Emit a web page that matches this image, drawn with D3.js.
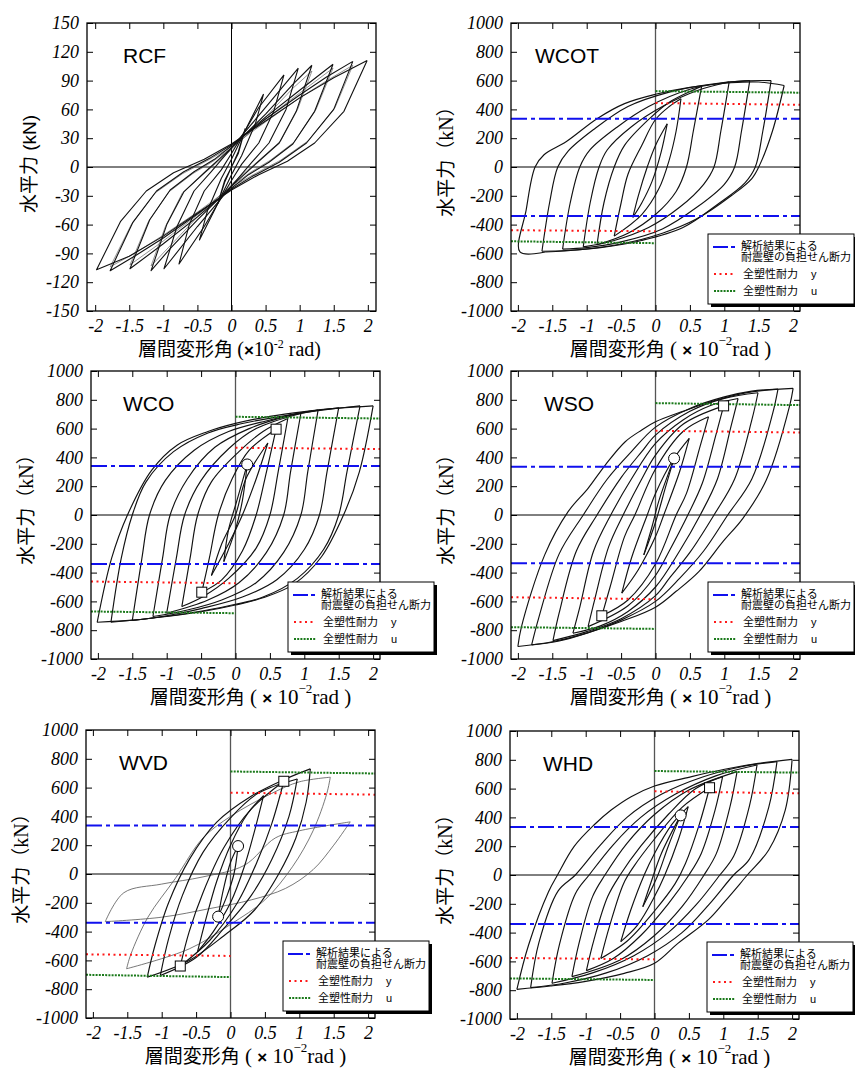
<!DOCTYPE html>
<html>
<head>
<meta charset="utf-8">
<title>Hysteresis loops</title>
<style>
  body { margin: 0; background: #fff; }
  svg { display: block; }
</style>
<script src="https://d3js.org/d3.v7.min.js"></script>
</head>
<body>
<svg width="855" height="1068"></svg>
<script>
var svg = d3.select('svg');

var serifF = '"Liberation Serif", "Times New Roman", serif';
var sansF = '"Liberation Sans", Arial, sans-serif';
var cjkF = '"Noto Sans CJK JP", sans-serif';

// tick values
var xTicks = [-2, -1.5, -1, -0.5, 0, 0.5, 1, 1.5, 2];
var rcfYTicks = [-150, -120, -90, -60, -30, 0, 30, 60, 90, 120, 150];
var wallYTicks = [-1000, -800, -600, -400, -200, 0, 200, 400, 600, 800, 1000];
var legendLines = ['解析結果による', '耐震壁の負担せん断力', '全塑性耐力', '全塑性耐力'];
var legendSubs = ['y', 'u'];

// RCF loops [drift, force]
var rcfLoops = [
  [[0.2,40],[0.1,14],[0,0],[-0.1,-16],[-0.2,-38],[-0.1,-14],[0,0],[0.1,16],[0.2,40]],
  [[0.47,76],[0.35,45],[0.15,12],[0,-8],[-0.25,-45],[-0.47,-76],[-0.35,-45],[-0.15,-12],[0,8],[0.25,45],[0.47,76]],
  [[0.77,96],[0.62,58],[0.4,25],[0.15,3],[0,-14],[-0.4,-62],[-0.77,-101],[-0.62,-60],[-0.4,-25],[-0.15,-3],[0,14],[0.4,62],[0.77,96]],
  [[0.98,103],[0.8,60],[0.55,25],[0.3,5],[0,-20],[-0.5,-62],[-0.99,-106],[-0.8,-62],[-0.55,-25],[-0.3,-5],[0,20],[0.5,62],[0.98,103]],
  [[1.18,106],[0.95,58],[0.7,25],[0.4,6],[0,-20],[-0.5,-55],[-0.9,-85],[-1.18,-108],[-0.95,-60],[-0.7,-26],[-0.4,-6],[0,20],[0.5,55],[0.9,86],[1.18,106]],
  [[1.49,107],[1.22,58],[0.9,24],[0.55,5],[0.25,-8],[0,-22],[-0.5,-52],[-1.0,-80],[-1.49,-106],[-1.2,-55],[-0.9,-24],[-0.55,-5],[-0.25,8],[0,22],[0.5,52],[1.0,80],[1.49,107]],
  [[1.78,110],[1.5,60],[1.1,25],[0.7,5],[0.3,-10],[0,-23],[-0.5,-49],[-1.0,-74],[-1.4,-92],[-1.78,-108],[-1.45,-58],[-1.1,-25],[-0.7,-5],[-0.3,10],[0,23],[0.5,50],[1.0,75],[1.4,94],[1.78,110]],
  [[1.99,111],[1.65,58],[1.22,25],[0.82,6],[0.4,-8],[0,-24],[-0.5,-48],[-1.0,-72],[-1.5,-93],[-1.98,-107],[-1.63,-57],[-1.25,-25],[-0.85,-6],[-0.4,8],[0,24],[0.5,48],[1.0,72],[1.5,93],[1.99,111]]
];
// repeated cycles (thin grey)
var rcfRepeat = [
  [[1.18,100],[0.97,60],[0.72,27],[0.42,8],[0,-18],[-0.5,-52],[-0.9,-82],[-1.18,-103],[-0.97,-62],[-0.72,-27],[-0.42,-8],[0,18],[0.5,52],[0.9,82],[1.18,100]],
  [[1.49,103],[1.24,60],[0.92,26],[0.57,7],[0.27,-6],[0,-20],[-0.5,-50],[-1.0,-77],[-1.49,-102],[-1.22,-57],[-0.92,-26],[-0.57,-7],[-0.27,6],[0,20],[0.5,50],[1.0,77],[1.49,103]],
  [[1.78,106],[1.52,62],[1.12,27],[0.72,7],[0.32,-8],[0,-21],[-0.5,-47],[-1.0,-71],[-1.4,-89],[-1.78,-104],[-1.47,-60],[-1.12,-27],[-0.72,-7],[-0.32,8],[0,21],[0.5,47],[1.0,72],[1.4,90],[1.78,106]]
];

// WCOT
var wcotLoops = [
  [[0.17,300],[0.08,100],[-0.05,-100],[-0.2,-250],[-0.33,-350],[-0.25,-200],[-0.12,0],[0,150],[0.17,300]],
  [[0.37,474],[0.3,250],[0.2,50],[0.05,-150],[-0.2,-330],[-0.6,-480],[-0.5,-250],[-0.4,-50],[-0.2,150],[0,330],[0.2,420],[0.37,474]],
  [[0.67,560],[0.55,250],[0.45,0],[0.3,-170],[0,-330],[-0.4,-460],[-0.85,-540],[-0.75,-250],[-0.6,0],[-0.45,150],[-0.1,330],[0.2,450],[0.67,560]],
  [[1.07,590],[0.95,250],[0.85,0],[0.7,-120],[0.35,-280],[-0.1,-420],[-0.6,-510],[-1.05,-555],[-0.95,-250],[-0.82,0],[-0.7,120],[-0.35,280],[0.1,420],[0.6,530],[1.07,590]],
  [[1.37,600],[1.25,250],[1.15,0],[1.0,-120],[0.6,-280],[0.1,-430],[-0.5,-520],[-1.0,-560],[-1.35,-570],[-1.24,-250],[-1.1,0],[-0.95,120],[-0.55,280],[-0.1,420],[0.5,540],[1.0,585],[1.37,600]],
  [[1.68,600],[1.56,250],[1.45,0],[1.3,-110],[0.9,-260],[0.4,-420],[-0.2,-510],[-0.8,-560],[-1.3,-580],[-1.65,-585],[-1.54,-250],[-1.42,0],[-1.27,110],[-0.9,260],[-0.4,420],[0.2,520],[0.8,575],[1.3,598],[1.68,600]],
  [[1.87,566],[1.7,250],[1.52,20],[1.4,-80],[1.1,-200],[0.6,-360],[0.1,-460],[-0.5,-535],[-1.1,-575],[-1.6,-590],[-1.97,-590],[-1.88,-300],[-1.75,0],[-1.62,85],[-1.3,175],[-0.85,335],[-0.45,440],[0,505],[0.5,553],[1.1,585],[1.5,590],[1.87,566]]
];
var wcotBlue = [335, -340];
var wcotRed = [[0, 444, 2.1, 432], [-2.1, -439, 0, -446]];
var wcotGreen = [[0, 527, 2.1, 516], [-2.1, -516, 0, -529]];

// WCO
var wcoLoops = [
  [[0.17,351],[0.1,100],[0,-100],[-0.17,-324],[-0.1,-100],[0.02,100],[0.17,351]],
  [[0.47,500],[0.3,250],[0.1,0],[-0.1,-200],[-0.35,-420],[-0.2,-200],[0,0],[0.15,250],[0.47,500]],
  [[0.59,596],[0.45,300],[0.3,0],[0.1,-250],[-0.2,-450],[-0.49,-536],[-0.38,-300],[-0.25,0],[-0.05,250],[0.2,450],[0.59,596]],
  [[0.76,670],[0.62,300],[0.5,0],[0.3,-230],[-0.1,-440],[-0.45,-560],[-0.78,-636],[-0.66,-300],[-0.55,0],[-0.35,230],[0.05,440],[0.4,580],[0.76,670]],
  [[0.95,705],[0.8,300],[0.7,0],[0.45,-260],[0.05,-470],[-0.4,-590],[-1.0,-682],[-0.86,-300],[-0.74,0],[-0.5,240],[-0.1,460],[0.3,600],[0.95,705]],
  [[1.2,728],[1.05,300],[0.95,0],[0.7,-260],[0.3,-470],[-0.2,-590],[-0.7,-660],[-1.2,-705],[-1.06,-300],[-0.95,0],[-0.7,250],[-0.3,470],[0.2,600],[0.7,680],[1.2,728]],
  [[1.5,745],[1.33,300],[1.22,0],[1.0,-240],[0.6,-450],[0.1,-570],[-0.5,-650],[-1.0,-700],[-1.5,-733],[-1.36,-300],[-1.25,0],[-1.02,240],[-0.6,450],[-0.1,580],[0.5,660],[1.0,715],[1.5,745]],
  [[1.81,758],[1.62,300],[1.5,0],[1.28,-240],[0.9,-440],[0.4,-570],[-0.1,-630],[-0.6,-675],[-1.2,-715],[-1.81,-745],[-1.66,-300],[-1.5,0],[-1.3,230],[-0.9,440],[-0.4,570],[0.1,635],[0.6,680],[1.2,725],[1.81,758]],
  [[2.0,758],[1.8,300],[1.57,0],[1.25,-290],[0.85,-480],[0.4,-575],[0,-625],[-0.5,-672],[-1.0,-705],[-1.5,-730],[-2.01,-745],[-1.8,-300],[-1.57,0],[-1.22,310],[-0.85,485],[-0.4,580],[0,636],[0.5,685],[1.0,718],[1.5,742],[2.0,758]]
];
var wcoBlue = [340, -340];
var wcoRed = [[0, 467, 2.1, 458], [-2.1, -462, 0, -474]];
var wcoGreen = [[0, 682, 2.1, 670], [-2.1, -670, 0, -682]];
var wcoSquares = [[0.59, 596], [-0.49, -536]];
var wcoCircles = [[0.17, 351]];

// WSO
var wsoLoops = [
  [[0.27,393],[0.15,200],[0,-50],[-0.17,-277],[-0.05,-80],[0.05,100],[0.27,393]],
  [[0.49,532],[0.35,300],[0.12,0],[0,-150],[-0.25,-380],[-0.49,-543],[-0.35,-300],[-0.12,0],[0,150],[0.25,380],[0.49,532]],
  [[0.77,682],[0.65,480],[0.45,150],[0.3,0],[0,-340],[-0.4,-590],[-0.78,-700],[-0.66,-500],[-0.45,-150],[-0.3,0],[0,320],[0.4,580],[0.77,682]],
  [[0.99,758],[0.88,560],[0.68,220],[0.47,0],[0.2,-250],[0,-420],[-0.4,-630],[-0.98,-775],[-0.88,-580],[-0.68,-220],[-0.47,0],[-0.2,250],[0,416],[0.4,630],[0.99,758]],
  [[1.2,809],[1.1,620],[0.9,250],[0.65,0],[0.35,-250],[0,-500],[-0.4,-670],[-0.8,-770],[-1.2,-821],[-1.1,-640],[-0.9,-250],[-0.65,0],[-0.35,250],[0,497],[0.4,660],[0.8,760],[1.2,809]],
  [[1.49,849],[1.4,660],[1.15,250],[0.85,0],[0.5,-260],[0.2,-440],[0,-560],[-0.5,-720],[-1.0,-810],[-1.49,-872],[-1.4,-680],[-1.15,-250],[-0.85,0],[-0.5,260],[-0.2,440],[0,555],[0.5,720],[1.0,810],[1.49,849]],
  [[1.78,874],[1.7,700],[1.4,250],[1.05,0],[0.7,-250],[0.35,-440],[0,-600],[-0.5,-730],[-1.0,-820],[-1.4,-875],[-1.8,-902],[-1.7,-720],[-1.4,-270],[-1.05,0],[-0.7,250],[-0.35,440],[0,610],[0.5,740],[1.0,820],[1.4,860],[1.78,874]],
  [[2.0,879],[1.95,760],[1.61,243],[1.27,-23],[0.98,-185],[0.63,-393],[0.3,-530],[0,-640],[-0.5,-740],[-1.0,-820],[-1.5,-880],[-2.0,-913],[-1.95,-780],[-1.61,-277],[-1.27,23],[-0.98,185],[-0.73,347],[-0.44,509],[-0.2,590],[0,647],[0.4,720],[0.9,800],[1.4,855],[2.0,879]]
];
var wsoBlue = [335, -335];
var wsoRed = [[0, 585, 2.1, 573], [-2.1, -571, 0, -585]];
var wsoGreen = [[0, 777, 2.1, 763], [-2.1, -779, 0, -791]];
var wsoSquares = [[0.99, 758], [-0.78, -700]];
var wsoCircles = [[0.27, 393]];

// WVD
var wvdLoops = [
  [[0.11,194],[0.05,0],[-0.05,-150],[-0.18,-296],[-0.1,-100],[0,80],[0.11,194]],
  [[0.48,544],[0.35,300],[0.2,50],[0,-200],[-0.25,-400],[-0.48,-541],[-0.35,-300],[-0.2,-50],[0,200],[0.25,420],[0.48,544]],
  [[0.775,644],[0.6,350],[0.4,100],[0.1,-200],[-0.3,-460],[-0.73,-639],[-0.6,-400],[-0.4,-130],[-0.1,180],[0.3,450],[0.775,644]],
  [[0.97,660],[0.85,400],[0.6,100],[0.3,-150],[-0.1,-380],[-0.5,-580],[-1.02,-705],[-0.9,-450],[-0.7,-150],[-0.4,150],[0,390],[0.4,560],[0.97,660]],
  [[1.16,730],[1.1,500],[0.95,250],[0.7,0],[0.35,-250],[-0.1,-430],[-0.6,-600],[-1.21,-716],[-1.1,-500],[-0.9,-200],[-0.6,100],[-0.2,360],[0.3,540],[0.8,660],[1.16,730]]
];
var wvdThin = [
  [[1.45,672],[1.4,560],[1.2,300],[0.9,50],[0.5,-180],[0,-350],[-0.6,-520],[-1.51,-658],[-1.45,-560],[-1.2,-300],[-0.8,-30],[-0.4,250],[0,400],[0.6,560],[1.0,640],[1.45,672]],
  [[1.74,362],[1.5,200],[1.2,30],[0.8,-100],[0.3,-180],[-0.3,-240],[-1.0,-300],[-1.82,-331],[-1.55,-130],[-1.0,-70],[-0.4,-20],[0.2,60],[0.65,250],[1.0,300],[1.74,362]]
];
var wvdBlue = [336, -338];
var wvdRed = [[0, 565, 2.1, 551], [-2.1, -558, 0, -569]];
var wvdGreen = [[0, 712, 2.1, 698], [-2.1, -700, 0, -716]];
var wvdSquares = [[0.775, 644], [-0.73, -639]];
var wvdCircles = [[0.11, 194], [-0.18, -296]];

// WHD
var whdLoops = [
  [[0.38,414],[0.2,200],[0.05,0],[-0.17,-220],[-0.05,-50],[0.1,150],[0.38,414]],
  [[0.49,475],[0.35,250],[0.15,0],[0,-150],[-0.25,-350],[-0.49,-463],[-0.35,-250],[-0.15,0],[0,150],[0.25,350],[0.49,475]],
  [[0.8,606],[0.65,350],[0.45,80],[0.3,-60],[0,-250],[-0.4,-460],[-0.78,-579],[-0.65,-350],[-0.45,-60],[-0.3,60],[0,250],[0.4,470],[0.8,606]],
  [[0.99,683],[0.88,450],[0.68,150],[0.5,0],[0.2,-200],[-0.2,-420],[-0.6,-580],[-0.99,-664],[-0.88,-450],[-0.68,-150],[-0.5,0],[-0.2,200],[0.2,420],[0.6,600],[0.99,683]],
  [[1.2,718],[1.1,480],[0.9,150],[0.72,0],[0.4,-220],[0,-420],[-0.5,-590],[-1.2,-706],[-1.1,-480],[-0.9,-150],[-0.72,0],[-0.4,220],[0,420],[0.5,590],[1.2,718]],
  [[1.49,764],[1.38,480],[1.15,130],[0.95,0],[0.6,-210],[0.2,-400],[-0.3,-560],[-0.9,-680],[-1.49,-752],[-1.38,-480],[-1.15,-130],[-0.95,0],[-0.6,210],[-0.2,400],[0.3,560],[0.9,690],[1.49,764]],
  [[1.78,787],[1.66,470],[1.38,110],[1.15,0],[0.8,-200],[0.4,-400],[-0.1,-560],[-0.7,-680],[-1.3,-750],[-1.8,-782],[-1.68,-470],[-1.4,-110],[-1.15,0],[-0.8,200],[-0.4,400],[0.1,560],[0.7,680],[1.3,755],[1.78,787]],
  [[2.0,803],[1.9,451],[1.66,174],[1.35,0],[1.02,-185],[0.78,-312],[0.34,-475],[0,-613],[-0.44,-683],[-1.02,-740],[-1.51,-771],[-2.0,-794],[-1.83,-486],[-1.54,-116],[-1.41,0],[-1.17,197],[-0.88,347],[-0.63,451],[-0.34,544],[0,618],[0.54,683],[1.02,734],[1.51,775],[2.0,803]]
];
var whdBlue = [333, -340];
var whdRed = [[0, 581, 2.1, 567], [-2.1, -576, 0, -586]];
var whdGreen = [[0, 722, 2.1, 711], [-2.1, -718, 0, -729]];
var whdSquares = [[0.8, 606]];
var whdCircles = [[0.38, 414]];

// layout of the six frames
var W = 289, H = 288;
var panels = [
  {name: 'RCF', left: 87, top: 23, labelDx: 36, xMax: 2.12, yMax: 150, yTicks: rcfYTicks, loops: rcfLoops, thin: rcfRepeat, rcf: true},
  {name: 'WCOT', left: 511, top: 23, labelDx: 24, xMax: 2.1, yMax: 1000, yTicks: wallYTicks, loops: wcotLoops,
    blue: wcotBlue, red: wcotRed, green: wcotGreen, squares: [], circles: []},
  {name: 'WCO', left: 91, top: 371, labelDx: 32, xMax: 2.1, yMax: 1000, yTicks: wallYTicks, loops: wcoLoops,
    blue: wcoBlue, red: wcoRed, green: wcoGreen, squares: wcoSquares, circles: wcoCircles},
  {name: 'WSO', left: 511, top: 371, labelDx: 33, xMax: 2.1, yMax: 1000, yTicks: wallYTicks, loops: wsoLoops,
    blue: wsoBlue, red: wsoRed, green: wsoGreen, squares: wsoSquares, circles: wsoCircles},
  {name: 'WVD', left: 86, top: 730, labelDx: 33, xMax: 2.1, yMax: 1000, yTicks: wallYTicks, loops: wvdLoops, thin: wvdThin,
    blue: wvdBlue, red: wvdRed, green: wvdGreen, squares: wvdSquares, circles: wvdCircles},
  {name: 'WHD', left: 510, top: 731, labelDx: 33, xMax: 2.1, yMax: 1000, yTicks: wallYTicks, loops: whdLoops,
    blue: whdBlue, red: whdRed, green: whdGreen, squares: whdSquares, circles: whdCircles}
];

function styleAxis(a) {
  a.select('.domain').remove();
  a.attr('font-family', null).attr('font-size', null);
  a.selectAll('.tick line').attr('stroke', '#000').attr('stroke-width', 1);
  a.selectAll('text')
    .style('font-family', serifF).style('font-style', 'italic').style('font-size', '18px')
    .attr('fill', '#000');
}

function branches(loop) {
  // split a closed loop at its negative peak
  var i = d3.minIndex(loop, d => d[1]);
  return [loop.slice(0, i + 1), loop.slice(i)];
}

function span(t, family, size, txt) {
  return t.append('tspan').style('font-family', family).style('font-size', size + 'px').text(txt);
}

function drawPanel(p) {
  var g = svg.append('g');
  var x = d3.scaleLinear().domain([-p.xMax, p.xMax]).range([p.left, p.left + W]);
  var y = d3.scaleLinear().domain([-p.yMax, p.yMax]).range([p.top + H, p.top]);

  var clipId = 'clip' + p.name;
  svg.append('clipPath').attr('id', clipId).append('rect')
    .attr('x', p.left).attr('y', p.top).attr('width', W).attr('height', H);
  var plot = g.append('g').attr('clip-path', 'url(#' + clipId + ')');

  plot.append('line').attr('x1', p.left).attr('x2', p.left + W)
    .attr('y1', y(0)).attr('y2', y(0)).attr('stroke', '#000').attr('stroke-width', 1);
  plot.append('line').attr('x1', x(0)).attr('x2', x(0))
    .attr('y1', p.top).attr('y2', p.top + H)
    .attr('stroke', p.rcf ? '#000' : '#555').attr('stroke-width', p.rcf ? 1 : 1.3);

  // hysteresis loops
  if (p.rcf) {
    var lin = d3.line().x(d => x(d[0])).y(d => y(d[1]));
    plot.selectAll('path.rep').data(p.thin).enter().append('path')
      .attr('class', 'rep').attr('d', lin)
      .attr('fill', 'none').attr('stroke', '#666').attr('stroke-width', 0.7);
    plot.selectAll('path.loop').data(p.loops).enter().append('path')
      .attr('class', 'loop').attr('d', lin)
      .attr('fill', 'none').attr('stroke', '#111').attr('stroke-width', 1.1).attr('stroke-linejoin', 'round');
  } else {
    var smooth = d3.line().x(d => x(d[0])).y(d => y(d[1])).curve(d3.curveCatmullRom.alpha(0.5));
    if (p.thin) {
      p.thin.forEach(function(loop) {
        branches(loop).forEach(function(b) {
          plot.append('path').attr('d', smooth(b)).attr('fill', 'none')
            .attr('stroke', '#555').attr('stroke-width', 0.8);
        });
      });
    }
    p.loops.forEach(function(loop) {
      branches(loop).forEach(function(b) {
        plot.append('path').attr('d', smooth(b)).attr('fill', 'none')
          .attr('stroke', '#111').attr('stroke-width', 1.15);
      });
    });

    // reference levels
    p.blue.forEach(function(v) {
      plot.append('line').attr('x1', p.left).attr('x2', p.left + W).attr('y1', y(v)).attr('y2', y(v))
        .attr('stroke', '#1010ee').attr('stroke-width', 2).attr('stroke-dasharray', '16,4,4,4');
    });
    p.red.forEach(function(s) {
      plot.append('line').attr('x1', x(s[0])).attr('y1', y(s[1])).attr('x2', x(s[2])).attr('y2', y(s[3]))
        .attr('stroke', '#ff1a1a').attr('stroke-width', 2).attr('stroke-dasharray', '2,3.5');
    });
    p.green.forEach(function(s) {
      plot.append('line').attr('x1', x(s[0])).attr('y1', y(s[1])).attr('x2', x(s[2])).attr('y2', y(s[3]))
        .attr('stroke', '#1b7a1b').attr('stroke-width', 2).attr('stroke-dasharray', '2,1.2');
    });

    plot.selectAll('rect.sq').data(p.squares).enter().append('rect').attr('class', 'sq')
      .attr('x', d => x(d[0]) - 5).attr('y', d => y(d[1]) - 5).attr('width', 10).attr('height', 10)
      .attr('fill', '#fff').attr('stroke', '#000').attr('stroke-width', 1);
    plot.selectAll('circle.ci').data(p.circles).enter().append('circle').attr('class', 'ci')
      .attr('cx', d => x(d[0])).attr('cy', d => y(d[1])).attr('r', 5.5)
      .attr('fill', '#fff').attr('stroke', '#000').attr('stroke-width', 1);
  }

  // axes with inward ticks on all sides
  var fmt = d => String(d);
  g.append('g').attr('transform', 'translate(' + p.left + ',0)')
    .call(d3.axisLeft(y).tickValues(p.yTicks).tickSizeInner(-6).tickSizeOuter(0).tickPadding(8).tickFormat(fmt))
    .call(styleAxis);
  g.append('g').attr('transform', 'translate(' + (p.left + W) + ',0)')
    .call(d3.axisRight(y).tickValues(p.yTicks).tickSizeInner(-6).tickSizeOuter(0).tickFormat(''))
    .call(styleAxis);
  g.append('g').attr('transform', 'translate(0,' + (p.top + H) + ')')
    .call(d3.axisBottom(x).tickValues(xTicks).tickSizeInner(-6).tickSizeOuter(0).tickPadding(8).tickFormat(fmt))
    .call(styleAxis);
  g.append('g').attr('transform', 'translate(0,' + p.top + ')')
    .call(d3.axisTop(x).tickValues(xTicks).tickSizeInner(-6).tickSizeOuter(0).tickFormat(''))
    .call(styleAxis);

  g.append('rect').attr('x', p.left).attr('y', p.top).attr('width', W).attr('height', H)
    .attr('fill', 'none').attr('stroke', '#000').attr('stroke-width', 1.3);

  // panel name
  g.append('text').attr('x', p.left + p.labelDx).attr('y', p.top + 40)
    .style('font-family', sansF).style('font-size', '21px').text(p.name);

  // y title
  var cy = p.top + H / 2 + (p.rcf ? -3 : -10);
  var tx = p.left + (p.rcf ? -57 : -64);
  var yt = g.append('text').attr('transform', 'translate(' + tx + ',' + cy + ') rotate(-90)')
    .attr('text-anchor', 'middle').attr('dy', '0.35em');
  if (p.rcf) {
    span(yt, cjkF, 19, '水平力');
    span(yt, sansF, 19, ' (kN)');
  } else {
    span(yt, cjkF, 19, '水平力（');
    span(yt, serifF, 20, 'kN');
    span(yt, cjkF, 19, '）');
  }

  // x title
  var xt = g.append('text').attr('x', p.left + W / 2 + (p.rcf ? -2 : 15)).attr('y', p.top + H + 45)
    .attr('text-anchor', 'middle');
  if (p.rcf) {
    span(xt, cjkF, 19, '層間変形角 ');
    span(xt, serifF, 20, '(');
    span(xt, sansF, 17, '×').style('font-weight', 'bold');
    span(xt, serifF, 20, '10');
    span(xt, serifF, 12, '-2').attr('dy', -8);
    span(xt, serifF, 20, ' rad)').attr('dy', 8);
  } else {
    span(xt, cjkF, 19, '層間変形角');
    span(xt, serifF, 21, ' (  ');
    span(xt, sansF, 17, '×').style('font-weight', 'bold');
    span(xt, serifF, 21, ' 10');
    span(xt, serifF, 13, '−2').attr('dy', -11);
    span(xt, serifF, 21, 'rad )').attr('dy', 11);
  }

  if (!p.rcf) drawLegend(p);
}

function drawLegend(p) {
  var L = p.left + W - 92, T = p.top + H - 77;
  var lg = svg.append('g');
  lg.append('rect').attr('x', L + 3).attr('y', T + 3).attr('width', 146).attr('height', 70).attr('fill', '#000');
  lg.append('rect').attr('x', L).attr('y', T).attr('width', 146).attr('height', 70)
    .attr('fill', '#fff').attr('stroke', '#000').attr('stroke-width', 1);
  lg.append('line').attr('x1', L + 5).attr('x2', L + 27).attr('y1', T + 13).attr('y2', T + 13)
    .attr('stroke', '#1010ee').attr('stroke-width', 2).attr('stroke-dasharray', '15,3,4,3');
  lg.append('line').attr('x1', L + 6).attr('x2', L + 28).attr('y1', T + 40).attr('y2', T + 40)
    .attr('stroke', '#ff1a1a').attr('stroke-width', 2).attr('stroke-dasharray', '2,3.5');
  lg.append('line').attr('x1', L + 6).attr('x2', L + 28).attr('y1', T + 57).attr('y2', T + 57)
    .attr('stroke', '#1b7a1b').attr('stroke-width', 2).attr('stroke-dasharray', '2,1.2');
  // two-line caption as one text element
  var t1 = lg.append('text').style('font-family', cjkF).style('font-size', '11px');
  t1.append('tspan').attr('x', L + 33).attr('y', T + 16).text(legendLines[0]);
  t1.append('tspan').attr('x', L + 33).attr('y', T + 27).text(legendLines[1]);
  [44, 61].forEach(function(dy, i) {
    var t = lg.append('text').attr('y', T + dy);
    span(t, cjkF, 11, legendLines[i + 2]).attr('x', L + 35);
    span(t, sansF, 11, legendSubs[i]).attr('x', L + 103);
  });
}

panels.forEach(drawPanel);
</script>
</body>
</html>
